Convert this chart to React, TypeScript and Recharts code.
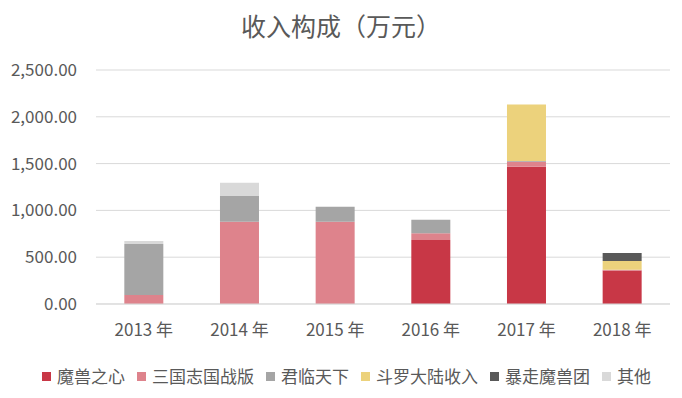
import React from 'react';
import { BarChart, Bar, XAxis, YAxis, CartesianGrid } from 'recharts';

const years = ['2013 年', '2014 年', '2015 年', '2016 年', '2017 年', '2018 年'];

const moshou = [0, 0, 0, 685, 1467, 357];
const sanguo = [95, 880, 880, 72, 53, 10];
const junlin = [547, 275, 160, 142, 8, 0];
const douluo = [0, 0, 0, 0, 603, 92];
const baozou = [0, 0, 0, 0, 0, 86];
const others = [30, 140, 0, 0, 0, 0];

const yTicks = [0, 500, 1000, 1500, 2000, 2500];

const series = [
    { key: 'moshou', name: '魔兽之心', color: '#C83746', values: moshou },
    { key: 'sanguo', name: '三国志国战版', color: '#DE838C', values: sanguo },
    { key: 'junlin', name: '君临天下', color: '#A5A5A5', values: junlin },
    { key: 'douluo', name: '斗罗大陆收入', color: '#ECD27C', values: douluo },
    { key: 'baozou', name: '暴走魔兽团', color: '#595959', values: baozou },
    { key: 'others', name: '其他', color: '#D9D9D9', values: others },
];

const data = years.map((year, i) => {
    const row: Record<string, string | number> = { year };
    series.forEach(s => { row[s.key] = s.values[i]; });
    return row;
});

const FONT = '"Noto Sans CJK SC", "Noto Sans", sans-serif';
const TEXT = '#595959';

const fmt = (v: number) =>
    v.toLocaleString('en-US', { minimumFractionDigits: 2, maximumFractionDigits: 2 });

export default function App() {
    return (
        <div style={{ position: 'absolute', left: 0, top: 0, width: 682, height: 398, background: '#fff', fontFamily: FONT }}>
            <div style={{ position: 'absolute', top: 11, left: 0, width: 682, textAlign: 'center', fontSize: 25, lineHeight: '28px', color: TEXT }}>
                收入构成（万元）
            </div>
            <BarChart width={682} height={398} data={data} margin={{ top: 70, right: 12, left: 0, bottom: 64 }} barCategoryGap="29.6%">
                <CartesianGrid vertical={false} stroke="#D9D9D9" strokeWidth={1} />
                <XAxis
                    dataKey="year"
                    height={30}
                    axisLine={{ stroke: '#D9D9D9' }}
                    tickLine={false}
                    tickSize={0}
                    tickMargin={20}
                    tick={{ fill: TEXT, fontSize: 17, fontFamily: FONT }}
                />
                <YAxis
                    width={96}
                    domain={[0, 2500]}
                    ticks={yTicks}
                    axisLine={false}
                    tickLine={false}
                    tickSize={0}
                    tickMargin={19}
                    tickFormatter={fmt}
                    tick={{ fill: TEXT, fontSize: 17, fontFamily: FONT }}
                />
                {series.map(s => (
                    <Bar key={s.key} dataKey={s.key} name={s.name} stackId="a" fill={s.color} isAnimationActive={false} />
                ))}
            </BarChart>
            <div style={{ position: 'absolute', left: 42, top: 365, display: 'flex', alignItems: 'center', fontSize: 17, lineHeight: '22px', color: TEXT, whiteSpace: 'nowrap' }}>
                {series.map(s => (
                    <div key={s.key} style={{ display: 'flex', alignItems: 'center', marginRight: 12 }}>
                        <span style={{ display: 'inline-block', width: 9, height: 9, background: s.color, marginRight: 6 }} />
                        <span>{s.name}</span>
                    </div>
                ))}
            </div>
        </div>
    );
}
